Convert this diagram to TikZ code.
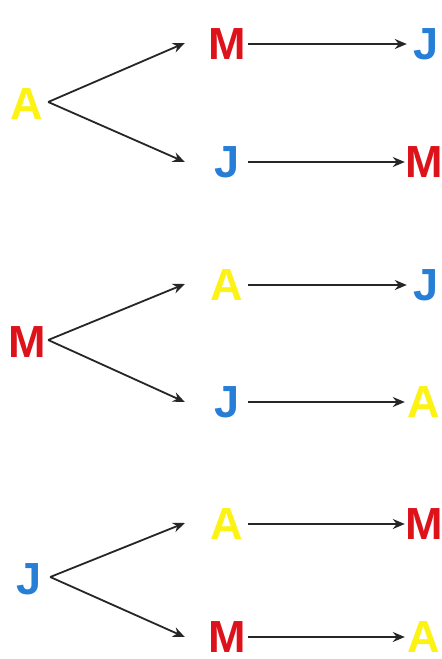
\documentclass[tikz,border=0pt]{standalone}
\usepackage{fontspec}
\setmainfont{Liberation Sans}
\usetikzlibrary{arrows.meta}
\definecolor{ltrA}{RGB}{252,242,20}
\definecolor{ltrM}{RGB}{222,18,26}
\definecolor{ltrJ}{RGB}{38,126,214}
\tikzset{
  letter/.style={inner sep=0pt, minimum width=40pt, font=\fontsize{45}{45}\selectfont\bfseries},
  la/.style={letter, text=ltrA},
  lm/.style={letter, text=ltrM},
  lj/.style={letter, text=ltrJ},
  link/.style={line width=1.8pt, draw=black!85, -{Stealth[length=12pt,width=10pt]}}
}
\begin{document}
\begin{tikzpicture}[x=1pt,y=-1pt]
\useasboundingbox[fill=white] (0,0) rectangle (442,659);
% first tree: A
\node[la] (a0) at (27,104) {A};
\node[lm] (a1) at (227,44) {M};
\node[lj] (a2) at (227,162) {J};
\node[lj] (a3) at (426,44) {J};
\node[lm] (a4) at (424,162) {M};
% second tree: M
\node[lm] (m0) at (27,342) {M};
\node[la] (m1) at (227,285) {A};
\node[lj] (m2) at (227,402) {J};
\node[lj] (m3) at (426,285) {J};
\node[la] (m4) at (424,402) {A};
% third tree: J
\node[lj] (j0) at (29,579) {J};
\node[la] (j1) at (227,524) {A};
\node[lm] (j2) at (227,637) {M};
\node[lm] (j3) at (424,524) {M};
\node[la] (j4) at (424,637) {A};
% branches and follow-on arrows
\foreach \r in {a,m,j}{
  \draw[link] ([xshift=1pt,yshift=2pt]\r0.east) -- ([xshift=-22pt,yshift=1pt]\r1.west);
  \draw[link] ([xshift=1pt,yshift=2pt]\r0.east) -- ([xshift=-22pt]\r2.west);
  \draw[link] ([xshift=1pt]\r1.east) -- ([xshift=1pt]\r3.west);
  \draw[link] ([xshift=1pt]\r2.east) -- ([xshift=1pt]\r4.west);
}
\end{tikzpicture}
\end{document}
